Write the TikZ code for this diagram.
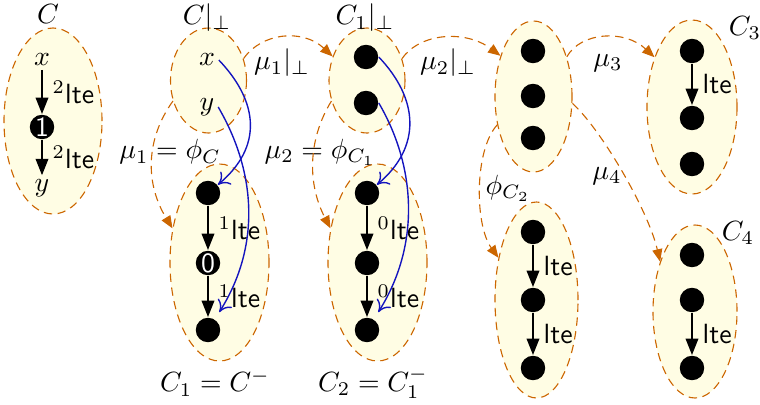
\documentclass[tikz,border=0pt]{standalone}
\usetikzlibrary{shapes.geometric,arrows.meta}
\definecolor{ellfill}{RGB}{255,253,228}
\definecolor{dashc}{RGB}{204,102,0}
\definecolor{bluec}{RGB}{20,20,190}
\tikzset{
  ell/.style 2 args={ellipse, draw=dashc, fill=ellfill, dash pattern=on 3pt off 2pt,
    minimum width=#1*0.36pt, minimum height=#2*0.36pt, inner sep=0pt},
  dot/.style={circle, fill=black, minimum size=8.8pt, inner sep=0pt, text=white, font=\sffamily},
  var/.style={inner sep=1.2pt},
  blk/.style={line width=1.05pt, -{Triangle[length=6pt,width=4.4pt]}},
  lab/.style={right, midway},
  map/.style={draw=dashc, dash pattern=on 3pt off 2pt, -{Triangle[length=4.5pt,width=3.6pt,fill=dashc]}},
  emb/.style={draw=bluec, line width=0.5pt, -{To[length=4pt,width=6pt]}},
}
\begin{document}
\begin{tikzpicture}[x=0.36pt,y=-0.36pt]
\useasboundingbox (0,0) rectangle (760,404);
% ellipses
\node[ell={98}{186}] (eC) at (53,121) {};
\node[ell={76}{105}] (eCp) at (208.5,80.5) {};
\node[ell={76}{105}] (eC1p) at (367,80.5) {};
\node[ell={77}{151}] (eD) at (533.5,96.5) {};
\node[ell={90}{174}] (eC3) at (692,107) {};
\node[ell={99}{197}] (eC1) at (219.5,262.5) {};
\node[ell={99}{197}] (eC2) at (377.5,262.5) {};
\node[ell={83}{196}] (eE) at (536.5,300) {};
\node[ell={84}{173}] (eC4) at (695,311.5) {};
% titles
\node (tC) at (48,14) {$C$};
\node (tCp) at (207,18) {$C|_{\perp}$};
\node (tC1p) at (365,18) {$C_1|_{\perp}$};
\node (tC3) at (745,28) {$C_3$};
\node (tC4) at (738,233) {$C_4$};
\node (tC1) at (215,383) {$C_1 = C^-$};
\node (tC2) at (373,383) {$C_2 = C_1^-$};
% map labels
\node (lm1p) at (282,63) {$\mu_1|_{\perp}$};
\node (lm2p) at (448,63) {$\mu_2|_{\perp}$};
\node (lm3) at (608,63) {$\mu_3$};
\node (lm4) at (607,176) {$\mu_4$};
\node (lm1) at (170,152) {$\mu_1 = \phi_C$};
\node (lm2) at (320,152) {$\mu_2 = \phi_{C_1}$};
\node (lphi) at (508,188) {$\phi_{C_2}$};
% C
\node[var] (cx) at (42,60) {$x$};
\node[dot] (c1) at (42,127) {1};
\node[var] (cy) at (42,188) {$y$};
% C|perp
\node[var] (cpx) at (207,60) {$x$};
\node[var] (cpy) at (207,107) {$y$};
% C1|perp
\node[dot] (pa) at (366,57) {};
\node[dot] (pb) at (366,103) {};
% D
\node[dot] (dd1) at (533,51) {};
\node[dot] (dd2) at (533,96) {};
\node[dot] (dd3) at (533,138) {};
% C3
\node[dot] (dc1) at (692,51) {};
\node[dot] (dc2) at (692,118) {};
\node[dot] (dc3) at (692,164) {};
% C1
\node[dot] (da1) at (208,193) {};
\node[dot] (da2) at (208,263) {0};
\node[dot] (da3) at (208,330) {};
% C2
\node[dot] (db1) at (367,193) {};
\node[dot] (db2) at (367,263) {};
\node[dot] (db3) at (367,330) {};
% E
\node[dot] (de1) at (533,232) {};
\node[dot] (de2) at (533,300) {};
\node[dot] (de3) at (533,368) {};
% C4
\node[dot] (df1) at (692,255) {};
\node[dot] (df2) at (692,300) {};
\node[dot] (df3) at (692,368) {};
% black arrows
\draw[blk] (cx) -- node[lab] {$^2$\textsf{lte}} (c1);
\draw[blk] (c1) -- node[lab] {$^2$\textsf{lte}} (cy);
\draw[blk] (da1) -- node[lab] {$^1$\textsf{lte}} (da2);
\draw[blk] (da2) -- node[lab] {$^1$\textsf{lte}} (da3);
\draw[blk] (db1) -- node[lab] {$^0$\textsf{lte}} (db2);
\draw[blk] (db2) -- node[lab] {$^0$\textsf{lte}} (db3);
\draw[blk] (de1) -- node[lab] {\textsf{lte}} (de2);
\draw[blk] (de2) -- node[lab] {\textsf{lte}} (de3);
\draw[blk] (dc1) -- node[lab] {\textsf{lte}} (dc2);
\draw[blk] (df2) -- node[lab] {\textsf{lte}} (df3);
% dashed maps
\draw[map] (eCp.32) .. controls +(18,-26) and +(-30,-28) .. (eC1p.145);
\draw[map] (eC1p.32) .. controls +(18,-26) and +(-35,-26) .. (eD.129);
\draw[map] (eD.50) .. controls +(14,-25) and +(-30,-28) .. (eC3.127);
\draw[map] (eD.-10) .. controls +(28,25) and +(-12,-52) .. (eC4.125);
\draw[map] (eCp.210) .. controls +(-28,39) and +(-27,-44) .. (eC1.144);
\draw[map] (eC1p.210) .. controls +(-24,39) and +(-23,-44) .. (eC2.144);
\draw[map] (eD.218) .. controls +(-23,25) and +(-24,-33) .. (eE.132);
% blue embeddings
\draw[emb] (cpx.east) .. controls +(40,42) and +(55,-46) .. (da1);
\draw[emb,shorten >=3pt] (cpy.east) .. controls +(38,65) and +(53,-84) .. (da3);
\draw[emb] (pa.east) .. controls +(40,42) and +(55,-46) .. (db1);
\draw[emb,shorten >=3pt] (pb.east) .. controls +(38,65) and +(53,-84) .. (db3);
\end{tikzpicture}
\end{document}
